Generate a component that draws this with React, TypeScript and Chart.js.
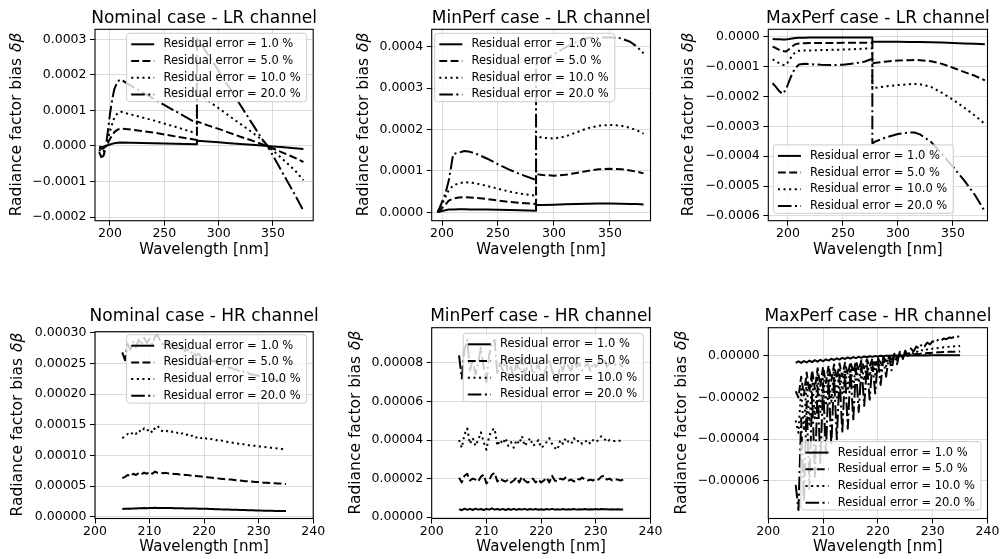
import React, { useEffect, useRef } from "react";
import { Chart, registerables } from "chart.js";

Chart.register(...registerables);

const FAMILY = "'DejaVu Sans', 'Liberation Sans', Arial, sans-serif";
const UNIT = 1e-6; // all series values below are given in units of 1e-6

const SERIES_LABELS = [
  "Residual error = 1.0 %",
  "Residual error = 5.0 %",
  "Residual error = 10.0 %",
  "Residual error = 20.0 %",
];
const DASHES: number[][] = [[], [7.9, 3.4], [2.1, 3.5], [13.6, 3.4, 2.1, 3.4]];

const LR_X_TICKS = [200, 250, 300, 350];
const HR_X_TICKS = [200, 210, 220, 230, 240];
const NOM_LR_Y_TICKS = [-0.0002, -0.0001, 0, 0.0001, 0.0002, 0.0003];
const MIN_LR_Y_TICKS = [0, 0.0001, 0.0002, 0.0003, 0.0004];
const MAX_LR_Y_TICKS = [-0.0006, -0.0005, -0.0004, -0.0003, -0.0002, -0.0001, 0];
const NOM_HR_Y_TICKS = [0, 0.00005, 0.0001, 0.00015, 0.0002, 0.00025, 0.0003];
const MIN_HR_Y_TICKS = [0, 0.00002, 0.00004, 0.00006, 0.00008];
const MAX_HR_Y_TICKS = [-0.00006, -0.00004, -0.00002, 0];

// ---------- Nominal case - LR channel ----------
const nomLRWl = [190, 192, 194, 196, 198, 200, 202, 204, 207, 210, 220, 240, 260, 280, 280, 290, 300, 310, 320, 330, 340, 345, 350, 360, 370, 378];
const nomLR1 = [-2, -3, -2, 0, 2, 4, 6, 8, 9, 9.5, 9, 8, 6.5, 5, 15, 12.6, 10.3, 8, 5.7, 3.4, 1.1, 0, -1.3, -3.8, -6.3, -8.3];
const nomLR5 = [-5, -8, -7, -1, 8, 20, 30, 39, 46, 49, 46, 38, 27, 17, 69, 58, 48, 37, 26, 16, 5, 0, -7, -20, -33, -45];
const nomLR10 = [-10, -18, -16, -3, 18, 42, 62, 80, 92, 96, 88, 72, 54, 35, 150, 128, 106, 84, 62, 40, 17, 0, -13, -40, -68, -96];
const nomLR20 = [-17, -31, -28, -5, 40, 90, 130, 160, 182, 187, 168, 133, 98, 64, 306, 258, 211, 163, 115, 67, 19, 0, -27, -82, -136, -182];

// ---------- MinPerf case - LR channel ----------
const minLRWl = [196, 198, 200, 203, 206, 210, 215, 220, 225, 230, 240, 250, 260, 270, 284, 284, 290, 300, 310, 320, 330, 340, 350, 360, 368, 374, 380];
const minLR1 = [0, 1.5, 3, 5, 6.5, 7, 7.2, 7.2, 7, 7, 6.5, 6, 5.5, 5, 4, 17.5, 17.5, 18.3, 19.2, 20, 20.5, 21, 21, 20.8, 20.3, 19.8, 19];
const minLR5 = [0, 5, 10, 18, 28, 33, 35.5, 36.5, 36, 35, 32, 28.5, 25, 22.5, 20, 92, 90, 88.5, 90.5, 95, 100, 104, 105, 104, 101, 98, 94];
const minLR10 = [0, 9, 19, 36, 53, 65, 70, 72.5, 72, 70, 64, 57, 50, 45, 40, 184, 180, 178, 183, 193, 203, 209, 211, 209, 204, 198, 190];
const minLR20 = [0, 12, 25, 45, 76, 141, 144, 148, 146, 142, 130, 116, 103, 92, 78, 356, 366, 382, 398, 412, 421, 422, 423, 420, 412, 400, 384];

// ---------- MaxPerf case - LR channel ----------
const maxLRWl = [186, 189, 192, 195, 198, 201, 204, 207, 210, 215, 220, 230, 240, 250, 260, 270, 276.7, 276.7, 280, 290, 300, 310, 315, 320, 330, 340, 350, 360, 370, 379];
const maxLR1 = [-7.7, -8.3, -8.8, -9.2, -9.3, -8, -6, -4.5, -3.5, -3.2, -3, -3, -3, -3, -3, -3, -3, -16.7, -16.6, -16.7, -17, -17.4, -17.6, -17.9, -18.6, -19.6, -21, -22.5, -24, -25.5];
const maxLR5 = [-33, -38, -44, -48, -50, -42, -32, -25, -22.5, -22, -21.5, -21, -21, -20.5, -20, -20, -20, -89, -87, -83, -80, -78.5, -78, -78.5, -82, -91, -104, -118, -131, -146];
const maxLR10 = [-76, -82, -89, -94, -95, -80, -62, -51, -47, -46, -46, -45, -44, -43, -42, -40, -39, -173, -171, -166, -162, -159, -158, -159, -168, -188, -211, -237, -264, -292];
const maxLR20 = [-156, -168, -182, -192, -178, -150, -122, -104, -93, -91, -92, -94, -95, -94, -90, -83, -74, -357, -350, -336, -326, -321, -321, -327, -352, -393, -436, -480, -530, -585];

// ---------- HR channel wavelength grid ----------
const hrWl = [
  205, 205.5, 206, 206.5, 207, 207.5, 208, 208.5, 209, 209.5,
  210, 210.5, 211, 211.5, 212, 212.5, 213, 213.5, 214, 214.5,
  215, 215.5, 216, 216.5, 217, 217.5, 218, 218.5, 219, 219.5,
  220, 220.5, 221, 221.5, 222, 222.5, 223, 223.5, 224, 224.5,
  225, 225.5, 226, 226.5, 227, 227.5, 228, 228.5, 229, 229.5,
  230, 230.5, 231, 231.5, 232, 232.5, 233, 233.5, 234, 234.5,
  235,
];

// ---------- Nominal case - HR channel ----------
const nomHR1 = [
  12.6, 12.9, 13.2, 13.1, 13.6, 13.5, 13.9, 13.8, 14.2, 14.0,
  14.4, 14.2, 14.5, 14.3, 14.4, 14.2, 14.3, 14.1, 14.1, 13.9,
  13.9, 13.8, 13.7, 13.6, 13.5, 13.4, 13.3, 13.2, 13.1, 13.0,
  12.9, 12.8, 12.6, 12.5, 12.3, 12.2, 12.0, 11.9, 11.7, 11.6,
  11.5, 11.3, 11.2, 11.1, 10.9, 10.8, 10.7, 10.5, 10.4, 10.3,
  10.2, 10.0, 9.9, 9.8, 9.7, 9.6, 9.5, 9.5, 9.4, 9.3,
  9.3,
];
const nomHR5 = [
  63, 65, 68, 66, 70, 68, 71, 69, 72, 70,
  73, 70, 73.5, 71.5, 72, 71, 71.5, 70.5, 70.5, 69.5,
  69.5, 69, 68.5, 68, 68, 67, 67, 66.5, 66, 65.5,
  65, 64.5, 64, 63.5, 63, 62.5, 62, 61.5, 61, 60.5,
  60.5, 60, 59.5, 59, 58.5, 58, 58, 57.5, 57, 56.5,
  56.5, 56, 55.5, 55.5, 55, 54.5, 54.5, 54, 54, 53.5,
  53.5,
];
const nomHR10 = [
  128, 131, 135, 133, 138, 135, 141, 138, 144, 140,
  143, 137, 145, 148, 141, 139, 141, 138, 139, 136,
  137, 134, 136, 133, 134, 131, 133, 129, 131, 128,
  130, 127, 128, 126, 126, 124, 125, 123, 123, 121,
  121, 120, 120, 118, 119, 117, 117, 116, 116, 115,
  115, 114, 114, 113, 113, 112, 112, 111, 111, 110,
  109,
];
const nomHR20 = [
  268, 255, 282, 272, 285, 276, 289, 280, 292, 283,
  290, 281, 294, 296, 285, 281, 286, 279, 282, 276,
  279, 272, 277, 270, 273, 266, 270, 262, 266, 259,
  262, 256, 258, 253, 254, 249, 250, 246, 246, 243,
  243, 240, 240, 237, 238, 234, 235, 232, 232, 230,
  230, 228, 228, 226, 226, 224, 224, 222, 222, 220,
  219,
];

// ---------- MinPerf case - HR channel ----------
const minHR1 = [
  4.2, 3.6, 4.4, 3.8, 4.3, 3.7, 4.4, 3.9, 4.2, 3.7,
  4.3, 3.9, 4.6, 3.9, 4.2, 3.8, 4.3, 3.7, 4.2, 3.8,
  4.3, 3.8, 4.2, 3.9, 4.3, 3.8, 4.2, 3.9, 4.2, 3.8,
  4.1, 3.8, 4.2, 3.9, 4.3, 3.9, 4.1, 3.9, 4.2, 3.9,
  4.1, 4.0, 4.2, 3.9, 4.1, 4.0, 4.2, 4.0, 4.1, 4.0,
  4.2, 4.0, 4.2, 4.1, 4.1, 4.0, 4.1, 4.0, 4.1, 4.0,
  4.0,
];
const minHR5 = [
  20.5, 18, 21.5, 22.5, 19, 20, 19.5, 18.5, 21, 22,
  17.5, 19, 22, 23, 18.5, 20, 19, 18.5, 19.5, 18,
  19, 20.5, 18, 21, 19, 18, 18.5, 20, 18, 19.5,
  18, 19, 20.5, 18, 21.5, 19, 18.5, 20, 19.5, 20.5,
  19, 19.5, 18.5, 20, 19.5, 20.5, 19.5, 19, 19.5, 19,
  20, 19.5, 21, 21.5, 19.5, 20, 19, 19.5, 19.5, 19,
  19.5,
];
const minHR10 = [
  40, 36, 43, 46, 38, 41, 37, 40, 44, 39,
  35, 42, 45, 46, 37, 40, 38, 41, 37, 39,
  36, 40, 38, 42, 37, 39, 41, 37, 38, 40,
  36, 37, 39, 41, 38, 36, 35, 40, 38, 41,
  39, 38, 41, 39, 40, 38, 39, 40, 38, 40,
  39, 40, 42, 41, 39, 40, 39.5, 39.5, 40, 39.5,
  39,
];
const minHR20 = [
  84, 72, 87, 92, 76, 82, 74, 80, 88, 78,
  70, 84, 90, 92, 74, 80, 76, 82, 74, 78,
  72, 80, 76, 84, 74, 78, 82, 74, 76, 80,
  72, 74, 78, 82, 76, 72, 70, 80, 76, 82,
  78, 76, 82, 78, 80, 76, 78, 80, 76, 80,
  78, 80, 84, 82, 78, 80, 79, 79, 80, 79,
  78,
];

// ---------- MaxPerf case - HR channel ----------
const maxHR1 = [
  -3.4, -2.6, -3.4, -2.5, -3.2, -2.3, -3.0, -2.1, -2.8, -1.9,
  -2.6, -1.7, -2.3, -1.4, -2.0, -1.2, -1.8, -1.0, -1.5, -0.8,
  -1.3, -0.6, -1.1, -0.5, -0.9, -0.3, -0.7, -0.2, -0.5, -0.1,
  -0.3, 0, -0.2, 0.1, -0.1, 0.1, 0, 0.2, 0.1, 0.2,
  0.1, 0.2, 0.2, 0.2, 0.2, 0.3, 0.2, 0.3, 0.2, 0.3,
  0.3, 0.3, 0.3, 0.3, 0.3, 0.3, 0.3, 0.3, 0.3, 0.3,
  0.3,
];
const maxHR5 = [
  -17, -20, -10, -19, -8, -17.5, -7, -16, -6, -14.5,
  -5.3, -13, -4.7, -12, -4.2, -11, -3.7, -10, -3.3, -9,
  -2.9, -8, -2.5, -7, -2.1, -6, -1.7, -5.2, -1.3, -4.4,
  -1, -3.5, -0.6, -2.6, -0.2, -1.8, 0.1, -1, 0.4, -0.5,
  0.6, 0, 0.8, 0.5, 1, 0.8, 1.2, 1.1, 1.4, 1.3,
  1.5, 1.5, 1.7, 1.7, 1.8, 1.8, 1.9, 1.9, 2, 2,
  2.1,
];
const maxHR10 = [
  -31, -37, -16, -36, -12, -33, -10, -30, -8.5, -27,
  -7.5, -24, -6.5, -22, -6, -20, -5.5, -18, -5, -17,
  -4.5, -15, -4, -13, -3.5, -12, -3, -10, -2, -9,
  -1.5, -7, -0.8, -5, 0, -3.5, 0.5, -2, 1, -1,
  1.4, 0, 1.8, 1, 2.2, 1.7, 2.7, 2.3, 3.1, 2.8,
  3.5, 3.3, 3.8, 3.7, 4.1, 4, 4.4, 4.3, 4.6, 4.5,
  4.8,
];
const maxHR20 = [
  -62, -74, -30, -70, -22, -64, -18, -58, -15, -52,
  -13, -47, -11, -43, -10, -40, -9, -37, -8, -35,
  -7, -31, -6, -27, -5, -24, -4, -21, -3, -18,
  -2, -14, -1, -10, 0, -7, 1, -4, 2, -2,
  2.5, 0, 3.5, 2, 4.5, 3.5, 5.5, 4.5, 6.3, 5.5,
  7, 6.5, 7.7, 7.3, 8.3, 8, 8.8, 8.6, 9.2, 9.1,
  9.6,
];

type LegendPos = { side: "left" | "right"; vert: "top" | "bottom"; dx: number; dy: number };
interface PanelCfg {
  title: string;
  box: { l: number; r: number; t: number; b: number };
  yLabelX: number;
  titleY: number;
  xr: [number, number];
  yr: [number, number];
  xTicks: number[];
  yTicks: number[];
  yDec: number;
  wl: number[];
  series: number[][];
  legend: LegendPos;
}

const PANELS: PanelCfg[] = [
  {
    title: "Nominal case - LR channel",
    box: { l: 95, r: 313.2, t: 29.3, b: 220.7 }, yLabelX: 16.5, titleY: 22.7,
    xr: [186.2, 387], yr: [-0.00021, 0.000328], xTicks: LR_X_TICKS, yTicks: NOM_LR_Y_TICKS, yDec: 4,
    wl: nomLRWl, series: [nomLR1, nomLR5, nomLR10, nomLR20],
    legend: { side: "right", vert: "top", dx: 6.5, dy: 4 },
  },
  {
    title: "MinPerf case - LR channel",
    box: { l: 431.7, r: 650.5, t: 29.3, b: 220.7 }, yLabelX: 363.5, titleY: 22.7,
    xr: [190.8, 386.2], yr: [-0.0000203, 0.000442], xTicks: LR_X_TICKS, yTicks: MIN_LR_Y_TICKS, yDec: 4,
    wl: minLRWl, series: [minLR1, minLR5, minLR10, minLR20],
    legend: { side: "left", vert: "top", dx: 3, dy: 4 },
  },
  {
    title: "MaxPerf case - LR channel",
    box: { l: 768.3, r: 987.5, t: 29.3, b: 220.7 }, yLabelX: 689, titleY: 22.7,
    xr: [182.1, 381.4], yr: [-0.000616, 0.0000247], xTicks: LR_X_TICKS, yTicks: MAX_LR_Y_TICKS, yDec: 4,
    wl: maxLRWl, series: [maxLR1, maxLR5, maxLR10, maxLR20],
    legend: { side: "left", vert: "bottom", dx: 5, dy: 7.4 },
  },
  {
    title: "Nominal case - HR channel",
    box: { l: 95, r: 313.2, t: 331.7, b: 518.5 }, yLabelX: 18, titleY: 321,
    xr: [200, 240], yr: [-0.0000029, 0.0003016], xTicks: HR_X_TICKS, yTicks: NOM_HR_Y_TICKS, yDec: 5,
    wl: hrWl, series: [nomHR1, nomHR5, nomHR10, nomHR20],
    legend: { side: "right", vert: "top", dx: 6.5, dy: 3 },
  },
  {
    title: "MinPerf case - HR channel",
    box: { l: 431.7, r: 650.5, t: 327.7, b: 518.5 }, yLabelX: 356, titleY: 321,
    xr: [200, 240], yr: [-0.0000007, 0.0000983], xTicks: HR_X_TICKS, yTicks: MIN_HR_Y_TICKS, yDec: 5,
    wl: hrWl, series: [minHR1, minHR5, minHR10, minHR20],
    legend: { side: "right", vert: "top", dx: 7.2, dy: 5.6 },
  },
  {
    title: "MaxPerf case - HR channel",
    box: { l: 768.3, r: 987.5, t: 327.7, b: 518.5 }, yLabelX: 681.6, titleY: 321,
    xr: [200, 240], yr: [-0.0000781, 0.0000135], xTicks: HR_X_TICKS, yTicks: MAX_HR_Y_TICKS, yDec: 5,
    wl: hrWl, series: [maxHR1, maxHR5, maxHR10, maxHR20],
    legend: { side: "right", vert: "bottom", dx: 6.5, dy: 8.5 },
  },
];

const W = 1000;
const H = 559;
const XAXIS_H = 38;
const YAXIS_W = 80;

function fmtTick(v: number, d: number): string {
  const s = Math.abs(v) < 1e-15 ? (0).toFixed(d) : v.toFixed(d);
  return s.replace("-", "\u2212");
}

function roundRect(ctx: CanvasRenderingContext2D, x: number, y: number, w: number, h: number, r: number) {
  ctx.beginPath();
  ctx.moveTo(x + r, y);
  ctx.lineTo(x + w - r, y);
  ctx.arcTo(x + w, y, x + w, y + r, r);
  ctx.lineTo(x + w, y + h - r);
  ctx.arcTo(x + w, y + h, x + w - r, y + h, r);
  ctx.lineTo(x + r, y + h);
  ctx.arcTo(x, y + h, x, y + h - r, r);
  ctx.lineTo(x, y + r);
  ctx.arcTo(x, y, x + r, y, r);
  ctx.closePath();
}

function makeDecor(cfg: PanelCfg) {
  return {
    id: "panelDecor",
    afterDraw(chart: any) {
      const ctx = chart.ctx as CanvasRenderingContext2D;
      const a = chart.chartArea;
      ctx.save();
      // axes frame (spines)
      ctx.setLineDash([]);
      ctx.strokeStyle = "#000";
      ctx.lineWidth = 1.1;
      ctx.strokeRect(a.left, a.top, a.right - a.left, a.bottom - a.top);

      // legend
      ctx.font = `11.5px ${FAMILY}`;
      let maxW = 0;
      SERIES_LABELS.forEach((t) => {
        maxW = Math.max(maxW, ctx.measureText(t).width);
      });
      const pad = 4.6;
      const handle = 23;
      const gap = 9.2;
      const lw = pad + handle + gap + maxW + pad + 1.5;
      const lh = 68.4;
      const L = cfg.legend;
      const lx = L.side === "right" ? a.right - L.dx - lw : a.left + L.dx;
      const ly = L.vert === "top" ? a.top + L.dy : a.bottom - L.dy - lh;
      roundRect(ctx, lx, ly, lw, lh, 3);
      ctx.fillStyle = "rgba(255,255,255,0.8)";
      ctx.fill();
      ctx.strokeStyle = "#cccccc";
      ctx.lineWidth = 1;
      ctx.stroke();
      SERIES_LABELS.forEach((t, i) => {
        const ry = ly + 11 + i * 16.7;
        ctx.beginPath();
        ctx.setLineDash(DASHES[i]);
        ctx.lineWidth = 2;
        ctx.strokeStyle = "#000";
        ctx.moveTo(lx + pad, ry);
        ctx.lineTo(lx + pad + handle, ry);
        ctx.stroke();
        ctx.setLineDash([]);
        ctx.fillStyle = "#000";
        ctx.textAlign = "left";
        ctx.textBaseline = "middle";
        ctx.fillText(t, lx + pad + handle + gap, ry);
      });

      // title
      ctx.fillStyle = "#000";
      ctx.font = `17px ${FAMILY}`;
      ctx.textAlign = "center";
      ctx.textBaseline = "alphabetic";
      ctx.fillText(cfg.title, (a.left + a.right) / 2, cfg.titleY);

      // y-axis label with italic math part
      const normal = "Radiance factor bias ";
      const math = "\u03B4\u03B2";
      const fN = `15.5px ${FAMILY}`;
      const fI = `italic 15.5px ${FAMILY}`;
      ctx.font = fN;
      const w1 = ctx.measureText(normal).width;
      ctx.font = fI;
      const w2 = ctx.measureText(math).width;
      ctx.translate(cfg.yLabelX, (a.top + a.bottom) / 2);
      ctx.rotate(-Math.PI / 2);
      ctx.textAlign = "left";
      ctx.textBaseline = "middle";
      const sx = -(w1 + w2) / 2;
      ctx.font = fN;
      ctx.fillText(normal, sx, 0);
      ctx.font = fI;
      ctx.fillText(math, sx + w1 + 1, 0);
      ctx.restore();
    },
  };
}

function PanelChart({ cfg }: { cfg: PanelCfg }) {
  const ref = useRef<HTMLCanvasElement>(null);
  useEffect(() => {
    const canvas = ref.current;
    if (!canvas) return;
    const tickFont = { family: FAMILY, size: 12.5, lineHeight: 1.2 };
    const grid = {
      display: true,
      drawOnChartArea: true,
      color: "#dcdcdc",
      lineWidth: 1,
      drawTicks: true,
      tickLength: 5,
      tickColor: "#000",
      tickWidth: 1,
    };
    const chart = new Chart(canvas, {
      type: "line",
      data: {
        datasets: cfg.series.map((vals, i) => ({
          label: SERIES_LABELS[i],
          data: cfg.wl.map((x, j) => ({ x, y: vals[j] * UNIT })),
          borderColor: "#000",
          backgroundColor: "#000",
          borderWidth: 2,
          borderDash: DASHES[i],
          borderJoinStyle: "round",
          pointRadius: 0,
          tension: 0,
          fill: false,
          order: 3 - i,
        })),
      },
      options: {
        responsive: false,
        animation: false,
        devicePixelRatio: 1,
        events: [],
        layout: {
          padding: {
            left: cfg.box.l - YAXIS_W,
            top: cfg.box.t,
            right: W - cfg.box.r,
            bottom: H - cfg.box.b - XAXIS_H,
          },
        },
        plugins: {
          legend: { display: false },
          title: { display: false },
          tooltip: { enabled: false },
        },
        scales: {
          x: {
            type: "linear",
            min: cfg.xr[0],
            max: cfg.xr[1],
            afterBuildTicks: (s: any) => {
              s.ticks = cfg.xTicks.map((v) => ({ value: v }));
            },
            afterFit: (s: any) => {
              s.height = XAXIS_H;
            },
            ticks: {
              autoSkip: false,
              maxRotation: 0,
              minRotation: 0,
              padding: 0.3,
              color: "#000",
              font: tickFont,
              callback: (v: any) => String(v),
            },
            grid,
            border: { display: false },
            title: {
              display: true,
              text: "Wavelength [nm]",
              color: "#000",
              font: { family: FAMILY, size: 15, lineHeight: 1.2 },
              padding: { top: 0, bottom: 0 },
            },
          },
          y: {
            type: "linear",
            min: cfg.yr[0],
            max: cfg.yr[1],
            afterBuildTicks: (s: any) => {
              s.ticks = cfg.yTicks.map((v) => ({ value: v }));
            },
            afterFit: (s: any) => {
              s.width = YAXIS_W;
            },
            ticks: {
              autoSkip: false,
              padding: 3.5,
              color: "#000",
              font: tickFont,
              callback: (v: any) => fmtTick(Number(v), cfg.yDec),
            },
            grid,
            border: { display: false },
          },
        },
      } as any,
      plugins: [makeDecor(cfg)],
    } as any);
    return () => chart.destroy();
  }, [cfg]);
  return (
    <canvas
      ref={ref}
      width={W}
      height={H}
      style={{ position: "absolute", left: 0, top: 0, width: W, height: H }}
    />
  );
}

export default function App() {
  return (
    <div
      style={{
        position: "fixed",
        left: 0,
        top: 0,
        width: W,
        height: H,
        background: "#fff",
        overflow: "hidden",
      }}
    >
      {PANELS.map((p, i) => (
        <PanelChart key={i} cfg={p} />
      ))}
    </div>
  );
}
